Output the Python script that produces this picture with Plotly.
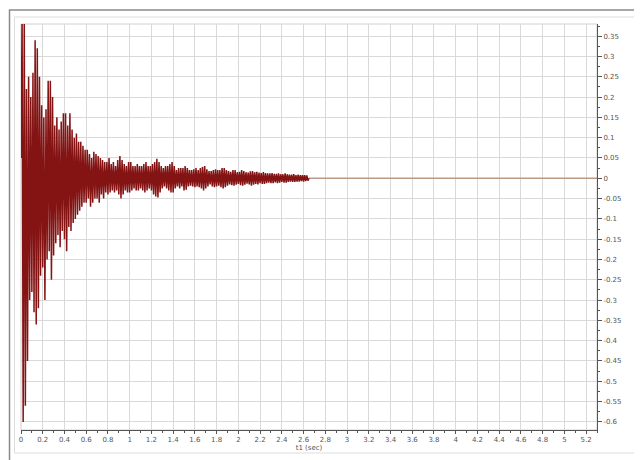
import plotly.graph_objects as go

# sampled signal (sec / amplitude)
sample_dt = 0.01
signal_v = [
    0.05, 0.40, -0.60, 0.39, -0.56, 0.22, -0.45, 0.25, -0.30, 0.20,
    -0.28, 0.26, -0.33, 0.34, -0.36, 0.32, -0.32, 0.25, -0.24, 0.18,
    -0.22, 0.15, -0.30, 0.17, -0.20, 0.24, -0.18, 0.24, -0.25, 0.20,
    -0.19, 0.13, -0.16, 0.15, -0.14, 0.12, -0.17, 0.14, -0.13, 0.16,
    -0.15, 0.16, -0.18, 0.13, -0.12, 0.16, -0.13, 0.12, -0.11, 0.10,
    -0.10, 0.11, -0.09, 0.09, -0.08, 0.09, -0.07, 0.08, -0.06, 0.07,
    -0.06, 0.07, -0.05, 0.06, -0.07, 0.05, -0.06, 0.065, -0.05, 0.06,
    -0.05, 0.055, -0.06, 0.05, -0.04, 0.045, -0.05, 0.04, -0.035, 0.04,
    -0.04, 0.05, -0.035, 0.035, -0.03, 0.04, -0.035, 0.03, -0.03, 0.045,
    -0.04, 0.055, -0.05, 0.045, -0.04, 0.035, -0.03, 0.03, -0.035, 0.04,
    -0.035, 0.04, -0.03, 0.03, -0.025, 0.03, -0.03, 0.035, -0.03, 0.03,
    -0.025, 0.03, -0.03, 0.035, -0.035, 0.04, -0.03, 0.03, -0.025, 0.03,
    -0.03, 0.035, -0.04, 0.04, -0.045, 0.048, -0.047, 0.04, -0.035, 0.03,
    -0.025, 0.025, -0.02, 0.03, -0.025, 0.03, -0.03, 0.035, -0.035, 0.04,
    -0.035, 0.03, -0.025, 0.02, -0.02, 0.025, -0.025, 0.025, -0.02, 0.025,
    -0.03, 0.03, -0.028, 0.025, -0.02, 0.02, -0.018, 0.02, -0.02, 0.022,
    -0.022, 0.025, -0.02, 0.02, -0.022, 0.025, -0.025, 0.028, -0.03, 0.03,
    -0.025, 0.022, -0.02, 0.018, -0.015, 0.018, -0.02, 0.02, -0.022, 0.022,
    -0.02, 0.02, -0.018, 0.02, -0.022, 0.025, -0.025, 0.025, -0.022, 0.02,
    -0.018, 0.018, -0.015, 0.016, -0.017, 0.02, -0.018, 0.02, -0.016, 0.015,
    -0.014, 0.016, -0.017, 0.02, -0.018, 0.018, -0.016, 0.015, -0.013, 0.014,
    -0.015, 0.017, -0.018, 0.018, -0.016, 0.015, -0.014, 0.016, -0.015, 0.014,
    -0.012, 0.013, -0.014, 0.015, -0.014, 0.013, -0.012, 0.012, -0.011, 0.012,
    -0.012, 0.013, -0.012, 0.011, -0.01, 0.011, -0.012, 0.012, -0.011, 0.01,
    -0.009, 0.01, -0.011, 0.012, -0.011, 0.01, -0.009, 0.009, -0.008, 0.009,
    -0.009, 0.01, -0.009, 0.008, -0.008, 0.009, -0.008, 0.008, -0.007, 0.008,
    -0.008, 0.008, -0.007, 0.007, -0.006, 0.0,
]
signal_t = [i * sample_dt for i in range(len(signal_v))]

# zero tail after the signal ends
tail_t = [2.65, 5.30]
tail_v = [0.0, 0.0]

y_ticks = [round(-0.6 + 0.05 * i, 2) for i in range(20)]
y_labels = [("%g" % v) for v in y_ticks]
x_ticks = [round(0.2 * i, 1) for i in range(27)]
x_labels = [("%g" % v) for v in x_ticks]

# the page adds an 8px body margin, so layout pixels are shifted by 8
W, H = 642, 460
OFF = 8
L, R, T, B = 20.5 - OFF, 597 - OFF, 24 - OFF, 430 - OFF


def px(x):
    return (x - OFF - L) / (R - L)


def py(y):
    return (B - (y - OFF)) / (B - T)


fig = go.Figure()
fig.add_trace(go.Scatter(x=tail_t, y=tail_v, mode='lines',
                         line=dict(color='#bb9a86', width=1.6), hoverinfo='skip'))
fig.add_trace(go.Scatter(x=signal_t, y=signal_v, mode='lines',
                         line=dict(color='#841414', width=1.5)))

axis_font = dict(family='DejaVu Sans', size=7, color='#555555')

fig.update_xaxes(range=[0, 5.3], tickvals=x_ticks, ticktext=x_labels,
                 showgrid=True, gridcolor='#d9d9d9', gridwidth=1, zeroline=False,
                 showline=True, linecolor='#555555', linewidth=1,
                 ticks='outside', ticklen=3, tickcolor='#555555',
                 minor=dict(dtick=0.1, ticks='outside', ticklen=2, tickcolor='#555555', showgrid=False),
                 tickfont=axis_font, title=dict(text='t1 (sec)', font=axis_font, standoff=0))

fig.update_yaxes(range=[-0.62, 0.38], side='right', tickvals=y_ticks, ticktext=y_labels,
                 showgrid=True, gridcolor='#d9d9d9', gridwidth=1, zeroline=False,
                 showline=True, linecolor='#555555', linewidth=1,
                 ticks='outside', ticklen=4, tickcolor='#555555',
                 minor=dict(dtick=0.025, ticks='outside', ticklen=2, tickcolor='#555555', showgrid=False),
                 tickfont=axis_font)

shapes = [
    # plot frame
    dict(type='rect', xref='paper', yref='paper', x0=0, x1=1, y0=0, y1=1,
         line=dict(color='#d0d0d0', width=1), layer='below'),
    # inner light frame
    dict(type='rect', xref='paper', yref='paper', x0=px(14), x1=px(636), y0=py(453), y1=py(17),
         line=dict(color='#dddddd', width=1)),
    # outer dark frame (left and top edges visible)
    dict(type='rect', xref='paper', yref='paper', x0=px(OFF + 1), x1=px(680), y0=py(500), y1=py(10),
         line=dict(color='#8a8a8a', width=1.5)),
]

fig.update_layout(width=W, height=H, showlegend=False,
                  margin=dict(l=L, r=W - R, t=T, b=H - B),
                  paper_bgcolor='white', plot_bgcolor='white',
                  shapes=shapes, font=axis_font)

fig.write_html("out.html")
